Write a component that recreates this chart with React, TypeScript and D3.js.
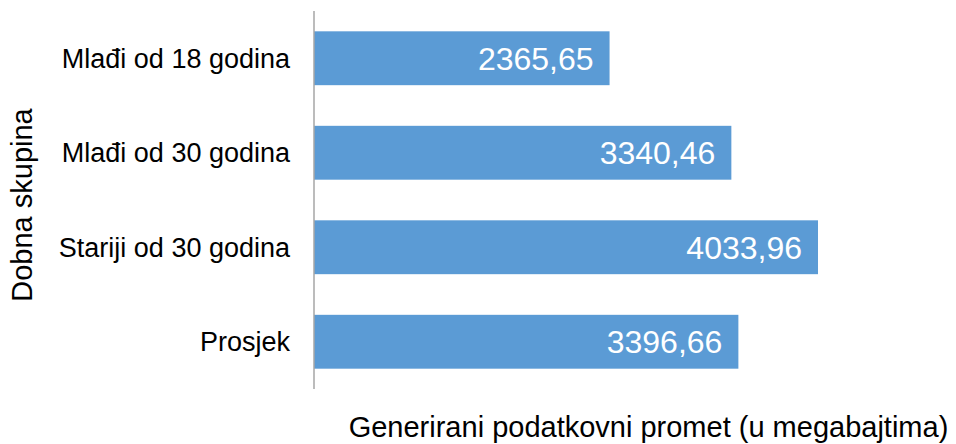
import React from "react";
import * as d3 from "d3";

const categories = ["Mlađi od 18 godina", "Mlađi od 30 godina", "Stariji od 30 godina", "Prosjek"];
const values = [2365.65, 3340.46, 4033.96, 3396.66];
const valueLabels = ["2365,65", "3340,46", "4033,96", "3396,66"];
const xTitle = "Generirani podatkovni promet (u megabajtima)";
const yTitle = "Dobna skupina";

export default function App() {
  const W = 956, H = 444;
  const x = d3.scaleLinear().domain([0, 5000]).range([314, 938.7]);
  const y = d3.scaleBand<string>().domain(categories).range([11, 389]).paddingInner(0.43).paddingOuter(0.215);
  const font = "'Liberation Sans', Arial, sans-serif";
  return (
    <svg width={W} height={H} style={{ position: "absolute", left: 0, top: 0 }} fontFamily={font}>
      <rect width={W} height={H} fill="#fff" />
      {categories.map((c, i) => (
        <g key={c}>
          <rect x={x(0)} y={y(c)!} width={x(values[i]) - x(0)} height={y.bandwidth()} fill="#5B9BD5" />
          <text x={x(values[i]) - 16} y={y(c)! + y.bandwidth() / 2} dy="0.36em" textAnchor="end" fill="#fff" fontSize={32}>
            {valueLabels[i]}
          </text>
          <text x={290} y={y(c)! + y.bandwidth() / 2} dy="0.36em" textAnchor="end" fill="#000" fontSize={27}>
            {c}
          </text>
        </g>
      ))}
      <line x1={x(0)} x2={x(0)} y1={11} y2={389} stroke="#a6a6a6" strokeWidth={1.5} />
      <text x={648.5} y={437} textAnchor="middle" fontSize={29} fill="#000">{xTitle}</text>
      <text transform={`translate(32,205) rotate(-90)`} textAnchor="middle" fontSize={29} fill="#000">{yTitle}</text>
    </svg>
  );
}
